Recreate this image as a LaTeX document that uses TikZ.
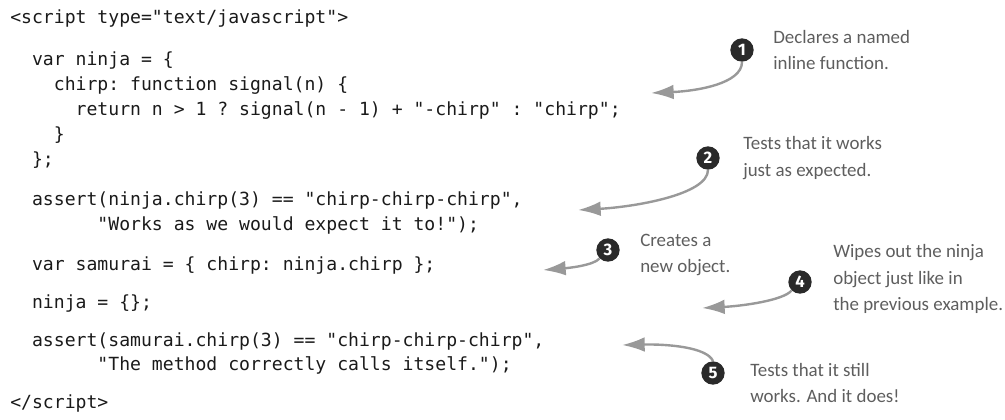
\documentclass[tikz,border=0pt]{standalone}
\usepackage{fontspec}
\setmonofont{DejaVu Sans Mono}
\newfontfamily\notefont{Carlito}
\newfontfamily\badgefont{Fira Sans}
\usetikzlibrary{arrows.meta}
\definecolor{codeblack}{HTML}{1A1A1A}
\definecolor{notegray}{HTML}{5E5E5E}
\definecolor{arrowgray}{HTML}{999999}
\definecolor{badgeblack}{HTML}{2A2A2A}
\tikzset{
  codeline/.style={anchor=mid west, inner sep=0pt, text=codeblack,
    font=\ttfamily\fontsize{13.58}{16}\selectfont},
  note/.style={anchor=west, inner sep=0pt, align=left, text=notegray,
    font=\notefont\fontsize{14.2}{19.9}\selectfont},
  badge/.style={circle, fill=badgeblack, inner sep=0pt, minimum size=17.5pt,
    text=white, font=\badgefont\bfseries\fontsize{12.5}{12.5}\selectfont},
  pointer/.style={draw=arrowgray, line width=1.8pt,
    -{Latex[length=17pt,width=11pt]}},
}
\begin{document}
\begin{tikzpicture}[x=0.75pt,y=-0.75pt]
\useasboundingbox (0,0) rectangle (1005,419);
% code
\node[codeline] (l1)  at (10,21)    {<script type="text/javascript">};
\node[codeline] (l2)  at (31.8,63)  {var ninja = \{};
\node[codeline] (l3)  at (53.6,88)  {chirp: function signal(n) \{};
\node[codeline] (l4)  at (75.4,113) {return n > 1 ? signal(n - 1) + "-chirp" : "chirp";};
\node[codeline] (l5)  at (53.6,138) {\}};
\node[codeline] (l6)  at (31.8,163) {\};};
\node[codeline] (l7)  at (31.8,203) {assert(ninja.chirp(3) == "chirp-chirp-chirp",};
\node[codeline] (l8)  at (97.2,228) {"Works as we would expect it to!");};
\node[codeline] (l9)  at (31.8,268) {var samurai = \{ chirp: ninja.chirp \};};
\node[codeline] (l10) at (31.8,306) {ninja = \{\};};
\node[codeline] (l11) at (31.8,344) {assert(samurai.chirp(3) == "chirp-chirp-chirp",};
\node[codeline] (l12) at (97.2,368) {"The method correctly calls itself.");};
\node[codeline] (l13) at (10,406)   {</script>};
% badges
\node[badge] (c1) at (742,50)  {1};
\node[badge] (c2) at (708,158) {2};
\node[badge] (c3) at (608,250) {3};
\node[badge] (c4) at (800,282) {4};
\node[badge] (c5) at (713,373) {5};
% notes
\node[note] (t1) at (773,50)  {Declares a named\\inline function.};
\node[note] (t2) at (743,158) {Tests that it works\\just as expected.};
\node[note] (t3) at (640,255) {Creates a\\new object.};
\node[note] (t4) at (833,279) {Wipes out the ninja\\object just like in\\the previous example.};
\node[note] (t5) at (750,383) {Tests that it still\\works. And it does!};
% arrow tips
\coordinate (p1) at (651,93);
\coordinate (p2) at (578,210);
\coordinate (p3) at (543,270);
\coordinate (p4) at (702,308);
\coordinate (p5) at (622,345);
% arrows
\draw[pointer] (c1.south) .. controls +(0,22) and +(45,-2) .. (p1);
\draw[pointer] (c2.south) .. controls +(0,25) and +(55,-3) .. (p2);
\draw[pointer] (c3.south west) .. controls +(-6,7) and +(25,-2) .. (p3);
\draw[pointer] (c4.south west) .. controls +(-8,10) and +(40,-2) .. (p4);
\draw[pointer] (c5.north) .. controls +(-6,-14) and +(45,-1) .. (p5);
\end{tikzpicture}
\end{document}
